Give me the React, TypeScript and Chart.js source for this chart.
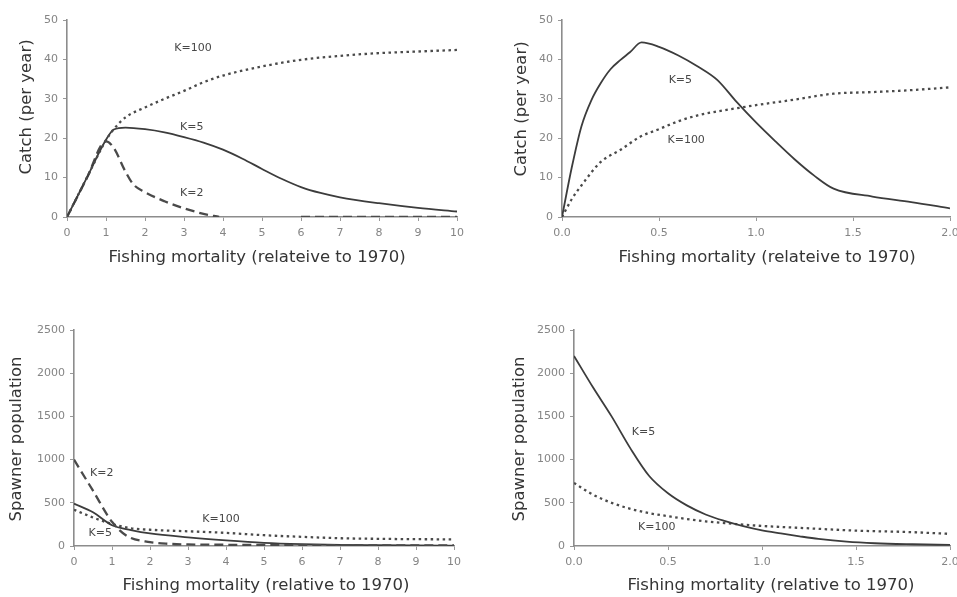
import React, { useEffect, useRef } from "react";
import { Chart, registerables } from "chart.js";

Chart.register(...registerables);

// ---- Catch vs fishing mortality, F from 0 to 10 ----
const catchK100F = [0, 0.5, 1, 1.2, 1.5, 2, 2.5, 3, 3.5, 4, 5, 6, 7, 8, 9, 10];
const catchK100 = [0, 9.8, 19.5, 22.3, 25.3, 27.8, 30, 32, 34.2, 35.9, 38.2, 39.9, 40.9, 41.6, 42, 42.4];
const catchK5F = [0, 0.5, 1, 1.2, 1.5, 2, 2.5, 3, 3.5, 4, 4.5, 5, 5.5, 6, 6.5, 7, 8, 9, 10];
const catchK5 = [0, 9.8, 19.6, 22.2, 22.7, 22.3, 21.5, 20.3, 18.9, 17.1, 14.8, 12.2, 9.7, 7.6, 6.1, 5, 3.5, 2.3, 1.4];
const catchK2F = [0, 0.5, 1, 1.2, 1.5, 1.7, 2, 2.5, 3, 3.5, 3.9, 4.5, 5.5, 6, 7, 8, 9, 10];
const catchK2 = [0, 9.7, 19.2, 17.5, 11.5, 8.3, 6.3, 4, 2.2, 0.8, 0, null, null, 0, 0, 0, 0, 0];

// ---- Catch vs fishing mortality, F from 0 to 2 ----
const catchK5F2 = [0, 0.05, 0.1, 0.15, 0.2, 0.25, 0.3, 0.35, 0.41, 0.5, 0.6, 0.7, 0.8, 0.9, 1.0, 1.1, 1.2, 1.3, 1.4, 1.6, 1.8, 2.0];
const catchK5_2 = [0, 12.5, 23, 29.5, 34, 37.5, 39.8, 41.8, 44.3, 43.2, 41, 38.2, 34.8, 29.2, 24, 19.2, 14.6, 10.5, 7.2, 5.2, 3.8, 2.2];
const catchK100F2 = [0, 0.05, 0.1, 0.2, 0.3, 0.4, 0.5, 0.6, 0.7, 0.8, 0.9, 1.0, 1.2, 1.4, 1.6, 1.8, 2.0];
const catchK100_2 = [0, 4.5, 8, 14, 17, 20.3, 22.3, 24.3, 25.8, 26.8, 27.6, 28.4, 29.8, 31.3, 31.7, 32.2, 32.9];

// ---- Spawner population, F from 0 to 10 ----
const spawnK2F = [0, 0.5, 1, 1.4, 2, 2.5, 3, 4, 5, 6, 7, 8, 9, 10];
const spawnK2 = [1000, 640, 280, 115, 45, 25, 18, 14, 12, 10, 9, 8, 8, 8];
const spawnK5F = [0, 0.5, 1, 1.5, 2, 3, 4, 5, 6, 7, 8, 9, 10];
const spawnK5 = [490, 390, 240, 185, 145, 100, 65, 37, 22, 14, 10, 7, 5];
const spawnK100F = [0, 0.5, 1, 1.5, 2, 3, 4, 5, 6, 7, 8, 9, 10];
const spawnK100 = [420, 330, 255, 205, 188, 170, 152, 125, 106, 90, 83, 79, 77];

// ---- Spawner population, F from 0 to 2 ----
const spawnK5F4 = [0, 0.1, 0.2, 0.3, 0.4, 0.5, 0.6, 0.7, 0.8, 0.9, 1.0, 1.1, 1.2, 1.3, 1.45, 1.6, 1.8, 2.0];
const spawnK5_4 = [2200, 1840, 1500, 1130, 810, 610, 470, 365, 290, 229, 180, 145, 112, 82, 50, 32, 20, 12];
const spawnK100F4 = [0, 0.1, 0.2, 0.3, 0.4, 0.5, 0.6, 0.7, 0.8, 1.0, 1.2, 1.5, 1.8, 2.0];
const spawnK100_4 = [730, 595, 500, 430, 380, 345, 312, 285, 265, 232, 210, 178, 160, 140];

const xTitleCatch = "Fishing mortality (relateive to 1970)";
const xTitleSpawn = "Fishing mortality (relative to 1970)";
const yTitleCatch = "Catch (per year)";
const yTitleSpawn = "Spawner population";

type Style = "solid" | "dotted" | "dashed";

const styles: Record<Style, any> = {
  solid: { borderColor: "#3c3c3c", borderWidth: 1.8, borderDash: [] },
  dotted: { borderColor: "#4a4a4a", borderWidth: 2.3, borderDash: [2.5, 3.5] },
  dashed: { borderColor: "#4a4a4a", borderWidth: 2.3, borderDash: [9, 5] },
};

function series(xs: number[], ys: (number | null)[], style: Style) {
  return {
    data: xs.map((x, i) => ({ x, y: ys[i] })),
    ...styles[style],
    pointRadius: 0,
    fill: false,
    spanGaps: false,
    cubicInterpolationMode: "monotone",
  };
}

const FONT = '"DejaVu Sans", Verdana, sans-serif';

interface PanelDef {
  canvas: { x: number; y: number; w: number; h: number };
  area: { l: number; r: number; t: number; b: number };
  xMax: number;
  xStep: number;
  xDecimals: number;
  yMax: number;
  yStep: number;
  datasets: any[];
  labels: { text: string; x: number; y: number }[];
  xTitle: { text: string; cx: number; cy: number };
  yTitle: { text: string; cx: number; cy: number };
}

const panels: PanelDef[] = [
  {
    canvas: { x: 0, y: 0, w: 478, h: 280 },
    area: { l: 67, r: 457, t: 20, b: 217 },
    xMax: 10, xStep: 1, xDecimals: 0, yMax: 50, yStep: 10,
    datasets: [
      series(catchK100F, catchK100, "dotted"),
      series(catchK5F, catchK5, "solid"),
      series(catchK2F, catchK2, "dashed"),
    ],
    labels: [
      { text: "K=100", x: 3.23, y: 42.9 },
      { text: "K=5", x: 3.2, y: 22.8 },
      { text: "K=2", x: 3.2, y: 6 },
    ],
    xTitle: { text: xTitleCatch, cx: 257, cy: 258 },
    yTitle: { text: yTitleCatch, cx: 27, cy: 107 },
  },
  {
    canvas: { x: 478, y: 0, w: 500, h: 280 },
    area: { l: 562, r: 950, t: 20, b: 217 },
    xMax: 2, xStep: 0.5, xDecimals: 1, yMax: 50, yStep: 10,
    datasets: [
      series(catchK5F2, catchK5_2, "solid"),
      series(catchK100F2, catchK100_2, "dotted"),
    ],
    labels: [
      { text: "K=5", x: 0.61, y: 34.8 },
      { text: "K=100", x: 0.64, y: 19.6 },
    ],
    xTitle: { text: xTitleCatch, cx: 767, cy: 258 },
    yTitle: { text: yTitleCatch, cx: 522, cy: 109 },
  },
  {
    canvas: { x: 0, y: 300, w: 478, h: 297 },
    area: { l: 74, r: 454, t: 330, b: 546 },
    xMax: 10, xStep: 1, xDecimals: 0, yMax: 2500, yStep: 500,
    datasets: [
      series(spawnK2F, spawnK2, "dashed"),
      series(spawnK5F, spawnK5, "solid"),
      series(spawnK100F, spawnK100, "dotted"),
    ],
    labels: [
      { text: "K=2", x: 0.73, y: 848 },
      { text: "K=100", x: 3.87, y: 309 },
      { text: "K=5", x: 0.69, y: 154 },
    ],
    xTitle: { text: xTitleSpawn, cx: 266, cy: 586 },
    yTitle: { text: yTitleSpawn, cx: 17, cy: 439 },
  },
  {
    canvas: { x: 478, y: 300, w: 500, h: 297 },
    area: { l: 574, r: 950, t: 330, b: 546 },
    xMax: 2, xStep: 0.5, xDecimals: 1, yMax: 2500, yStep: 500,
    datasets: [
      series(spawnK5F4, spawnK5_4, "solid"),
      series(spawnK100F4, spawnK100_4, "dotted"),
    ],
    labels: [
      { text: "K=5", x: 0.37, y: 1314 },
      { text: "K=100", x: 0.44, y: 222 },
    ],
    xTitle: { text: xTitleSpawn, cx: 771, cy: 586 },
    yTitle: { text: yTitleSpawn, cx: 520, cy: 439 },
  },
];

function textPlugin(p: PanelDef) {
  return {
    id: "panelText",
    afterDraw(chart: any) {
      const { ctx, scales } = chart;
      ctx.save();
      ctx.textAlign = "center";
      ctx.textBaseline = "middle";
      ctx.fillStyle = "#484848";
      ctx.font = `11px ${FONT}`;
      for (const l of p.labels) {
        ctx.fillText(l.text, scales.x.getPixelForValue(l.x), scales.y.getPixelForValue(l.y));
      }
      ctx.fillStyle = "#353535";
      ctx.font = `16.5px ${FONT}`;
      ctx.fillText(p.xTitle.text, p.xTitle.cx - p.canvas.x, p.xTitle.cy - p.canvas.y);
      ctx.translate(p.yTitle.cx - p.canvas.x, p.yTitle.cy - p.canvas.y);
      ctx.rotate(-Math.PI / 2);
      ctx.fillText(p.yTitle.text, 0, 0);
      ctx.restore();
    },
  };
}

function Panel({ p }: { p: PanelDef }) {
  const ref = useRef<HTMLCanvasElement | null>(null);
  useEffect(() => {
    if (!ref.current) return;
    const yWidth = p.area.l - p.canvas.x;
    const xHeight = p.canvas.y + p.canvas.h - p.area.b;
    const tickFont = { family: FONT, size: 11 };
    const chart = new Chart(ref.current, {
      type: "line",
      data: { datasets: p.datasets },
      plugins: [textPlugin(p)],
      options: {
        animation: false,
        responsive: false,
        devicePixelRatio: 1,
        layout: {
          padding: {
            left: 0,
            top: p.area.t - p.canvas.y,
            right: p.canvas.x + p.canvas.w - p.area.r,
            bottom: 0,
          },
        },
        plugins: { legend: { display: false }, tooltip: { enabled: false } },
        scales: {
          x: {
            type: "linear",
            min: 0,
            max: p.xMax,
            afterFit: (s: any) => { s.height = xHeight; },
            ticks: {
              stepSize: p.xStep,
              autoSkip: false,
              maxRotation: 0,
              padding: 6,
              color: "#858585",
              font: tickFont,
              callback: (v: any) => Number(v).toFixed(p.xDecimals),
            },
            grid: { drawOnChartArea: false, drawTicks: true, tickLength: 4, color: "#999" },
            border: { color: "#8c8c8c", width: 1.6 },
          },
          y: {
            type: "linear",
            min: 0,
            max: p.yMax,
            afterFit: (s: any) => { s.width = yWidth; },
            ticks: {
              stepSize: p.yStep,
              padding: 5,
              color: "#858585",
              font: tickFont,
              callback: (v: any) => String(Math.round(Number(v))),
            },
            grid: { drawOnChartArea: false, drawTicks: true, tickLength: 4, color: "#999" },
            border: { color: "#8c8c8c", width: 1.6 },
          },
        },
      } as any,
    });
    return () => chart.destroy();
  }, [p]);
  return (
    <canvas
      ref={ref}
      width={p.canvas.w}
      height={p.canvas.h}
      style={{
        position: "absolute",
        left: p.canvas.x,
        top: p.canvas.y,
        width: p.canvas.w,
        height: p.canvas.h,
      }}
    />
  );
}

export default function App() {
  return (
    <div
      style={{
        position: "absolute",
        left: 0,
        top: 0,
        width: 957,
        height: 597,
        overflow: "hidden",
        background: "#fff",
      }}
    >
      {panels.map((p, i) => (
        <Panel key={i} p={p} />
      ))}
    </div>
  );
}
